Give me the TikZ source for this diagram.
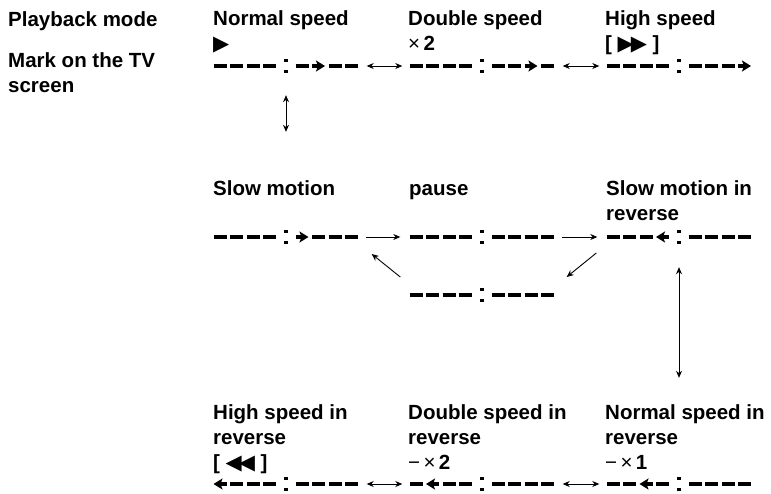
\documentclass[tikz,border=0pt]{standalone}
\usepackage{fontspec}
\setmainfont{Liberation Sans}
\newfontfamily\symf{DejaVu Sans}
\usetikzlibrary{arrows.meta, positioning, calc}
\tikzstyle{markbox} = [inner sep=0pt, minimum width=145pt, minimum height=14pt]
\tikzstyle{bar} = [line width=4pt]
\tikzstyle{tipr} = [-{Stealth[length=9pt, width=11pt, inset=2pt]}]
\tikzstyle{tipl} = [{Stealth[length=9pt, width=11pt, inset=2pt]}-]
\tikzstyle{modetext} = [anchor=base west, align=left, inner sep=0pt,
                        font=\fontsize{20.5}{25}\selectfont\bfseries]
\tikzstyle{oneway} = [line width=0.9pt, -{Stealth[length=7pt, width=6pt]}]
\tikzstyle{twoway} = [line width=0.9pt, {Stealth[length=7pt, width=6pt]}-{Stealth[length=7pt, width=6pt]}]
\newcommand{\tri}[1]{{\symf\fontsize{21}{25}\selectfont #1}}
% TV screen mark: name, centre, slot with arrow (0 = none), arrow style
\newcommand{\tvmark}[4]{%
  \node[markbox] (#1) at (#2) {};
  \foreach \s in {1,...,8}{%
    \pgfmathsetmacro{\xa}{\s<5 ? -72.5+(\s-1)*16.5 : 9.5+(\s-5)*16.5}%
    \ifnum\s=#3\relax
      \draw[bar, #4] ($(#1.center)+(\xa,0)$) -- ++(13,0);
    \else
      \draw[bar] ($(#1.center)+(\xa,0)$) -- ++(13,0);
    \fi
  }
  \fill ($(#1.center)+(-1.7,-7)$) rectangle ++(3.4,3.4);
  \fill ($(#1.center)+(-1.7,3.6)$) rectangle ++(3.4,3.4);
}

\begin{document}
\begin{tikzpicture}[x=1pt, y=-1pt]
\useasboundingbox (0,0) rectangle (771,493);

% Headings (anchored at the last line)
\node[modetext] (mode) at (8,26) {Playback mode};
\node[modetext] (screen) at (8,92) {Mark on the TV\\screen};

% Forward
\node[modetext] (t11) at (213,50) {Normal speed\\\tri{▶}};
\node[modetext] (t12) at (408,50) {Double speed\\{\mdseries ×}\,2};
\node[modetext] (t13) at (605,50) {High speed\\{}[\ \tri{▶\kern-3pt▶}\ ]};
\tvmark{m11}{286,66}{6}{tipr}
\tvmark{m12}{482,66}{7}{tipr}
\tvmark{m13}{679,66}{8}{tipr}

% Slow and pause
\node[modetext] (t21) at (213,195) {Slow motion};
\node[modetext] (t22) at (409,195) {pause};
\node[modetext] (t23) at (606,220) {Slow motion in\\reverse};
\tvmark{m21}{286,237}{5}{tipr}
\tvmark{m22}{482,237}{0}{}
\tvmark{m23}{679,237}{4}{tipl}
\tvmark{m22b}{482,295}{0}{}

% Reverse
\node[modetext] (t31) at (213,469) {High speed in\\reverse\\{}[\ \tri{◀\kern-3pt◀}\ ]};
\node[modetext] (t32) at (408,469) {Double speed in\\reverse\\{\mdseries −\,×}\,2};
\node[modetext] (t33) at (605,469) {Normal speed in\\reverse\\{\mdseries −\,×}\,1};
\tvmark{m31}{286,484}{1}{tipl}
\tvmark{m32}{482,484}{2}{tipl}
\tvmark{m33}{679,484}{3}{tipl}

% Arrows
\draw[twoway, shorten <=8pt, shorten >=7pt] (m11) -- (m12);
\draw[twoway, shorten <=8pt, shorten >=7pt] (m12) -- (m13);
\draw[oneway, shorten <=7pt, shorten >=9pt] (m21) -- (m22);
\draw[oneway, shorten <=7pt, shorten >=9pt] (m22) -- (m23);
\draw[twoway, shorten <=8pt, shorten >=7pt] (m31) -- (m32);
\draw[twoway, shorten <=8pt, shorten >=7pt] (m32) -- (m33);
\draw[twoway, shorten <=22pt, shorten >=98pt] (m11) -- (m21);
\draw[twoway, shorten <=23pt, shorten >=99pt] (m23) -- (m33);
\draw[oneway] ($(m22b.west)+(-9,-18)$) -- ($(m21.east)+(13,17)$);
\draw[oneway] ($(m23.west)+(-10,16)$) -- ($(m22b.east)+(12,-18)$);

\end{tikzpicture}
\end{document}
